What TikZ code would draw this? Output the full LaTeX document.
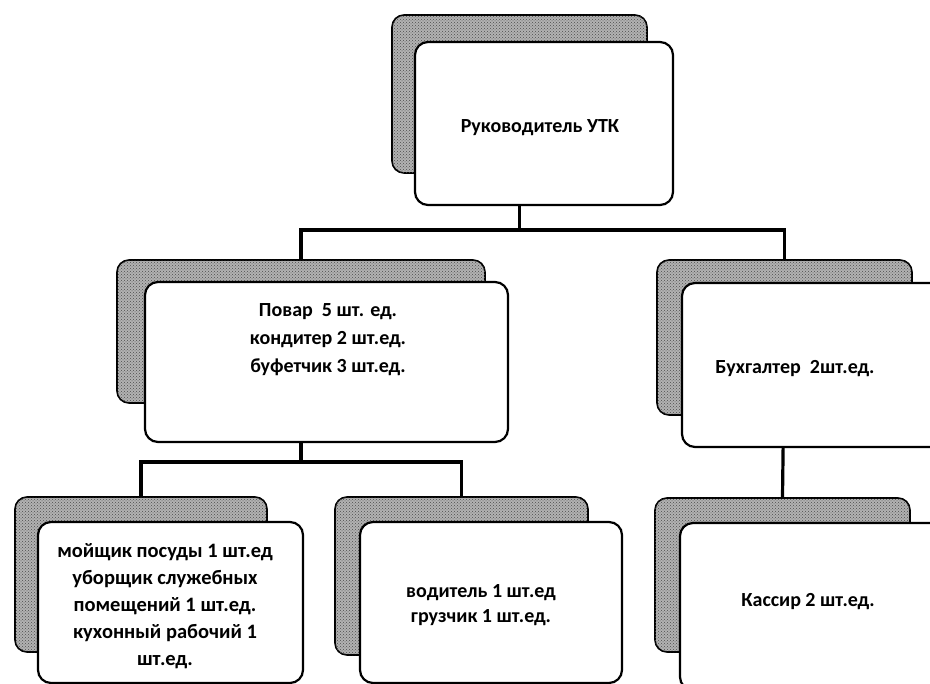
\documentclass[tikz,border=0pt]{standalone}
\usepackage{fontspec}
\setmainfont{Carlito}
\usetikzlibrary{patterns}
\begin{document}
\begin{tikzpicture}[x=1pt,y=-1pt,
  shbox/.style={draw=black,line width=1.6pt,rounded corners=12pt,fill=black!30,postaction={pattern=crosshatch dots,pattern color=black!70},inner sep=0pt},
  cardbox/.style={draw=black,line width=2.2pt,fill=white,rounded corners=13pt,inner sep=0pt},
  conn/.style={draw=black,line width=3.2pt},
  lbl/.style={font=\fontsize{20}{28}\selectfont\bfseries,align=center,inner sep=0pt}]
\useasboundingbox (0,0) rectangle (930,684);
\clip (0,0) rectangle (930,684);
% shadows
\node[shbox,minimum width=255pt,minimum height=158pt] (topS) at (519.5,94) {};
\node[shbox,minimum width=368pt,minimum height=143pt] (midS) at (301,331.5) {};
\node[shbox,minimum width=255pt,minimum height=155pt] (rS) at (784.5,337.5) {};
\node[shbox,minimum width=252pt,minimum height=155pt] (blS) at (141,574.5) {};
\node[shbox,minimum width=253pt,minimum height=158pt] (bmS) at (461.5,576) {};
\node[shbox,minimum width=255pt,minimum height=154pt] (brS) at (782.5,575) {};
% connectors
\coordinate (busA) at (519.5,230);
\coordinate (busB) at (301,462);
\draw[conn] (topS.center) -- (busA);
\draw[conn] (busA) -| (midS.north);
\draw[conn] (busA) -| (rS.north);
\draw[conn] (midS.center) -- (busB);
\draw[conn] (busB) -| (blS.north);
\draw[conn] (busB) -| (bmS.north);
\draw[conn] (rS.center) -- (brS.north);
% cards
\node[cardbox,minimum width=258pt,minimum height=163pt] (topM) at (544,123.5) {};
\node[cardbox,minimum width=363pt,minimum height=160pt] (midM) at (326.5,362) {};
\node[cardbox,minimum width=263pt,minimum height=164pt] (rM) at (813.5,365) {};
\node[cardbox,minimum width=265pt,minimum height=161pt] (blM) at (170.5,602.5) {};
\node[cardbox,minimum width=262pt,minimum height=161pt] (bmM) at (491,602.5) {};
\node[cardbox,minimum width=265pt,minimum height=167pt] (brM) at (812.5,606.5) {};
% texts
\node[lbl] (topT) at (540,128) {Руководитель УТК};
\node[lbl] (midT) at (328,340) {Повар \ 5 шт. ед.\\кондитер 2 шт.ед.\\буфетчик 3 шт.ед.};
\node[lbl] (rT) at (795,369) {Бухгалтер \ 2шт.ед.};
\node[lbl,font=\fontsize{20.5}{27}\selectfont\bfseries] (blT) at (165,606) {мойщик посуды 1 шт.ед\\уборщик служебных\\помещений 1 шт.ед.\\кухонный рабочий 1\\шт.ед.};
\node[lbl,font=\fontsize{20}{25}\selectfont\bfseries] (bmT) at (481,605) {водитель 1 шт.ед\\грузчик 1 шт.ед.};
\node[lbl] (brT) at (808,602) {Кассир 2 шт.ед.};
\end{tikzpicture}
\end{document}
